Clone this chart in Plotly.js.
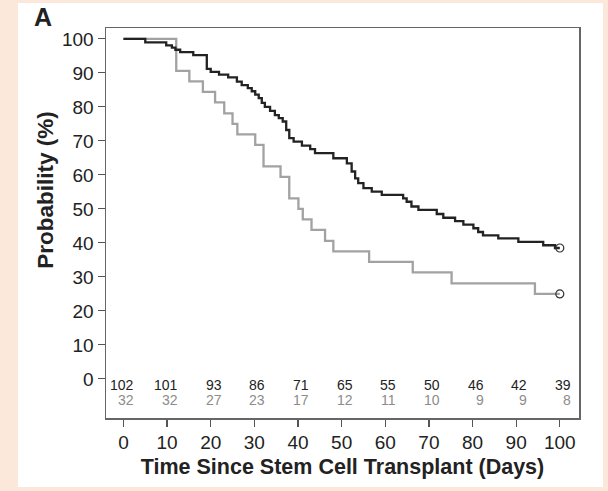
<!DOCTYPE html>
<html>
<head>
<meta charset="utf-8">
<script src="https://cdn.plot.ly/plotly-3.0.1.min.js"></script>
<style>html,body{margin:0;padding:0;background:#fbe8db;}#chart{width:608px;height:491px;}</style>
</head>
<body>
<div id="chart"></div>
<script>
// Black group (n=102): Kaplan-Meier step points (days, probability %)
var blackTimes = [0, 5.0, 9.8, 11.1, 11.9, 13.0, 16.0, 19.1, 20.0, 21.9, 24.0, 26.0, 27.1, 28.5, 29.4, 30.2, 31.0, 31.7, 32.4, 33.6, 34.7, 35.6, 36.5, 37.3, 38.0, 39.0, 40.9, 42.8, 43.9, 48.1, 51.2, 52.3, 53.1, 53.8, 55.0, 56.9, 59.2, 64.1, 64.9, 66.0, 67.6, 71.8, 73.3, 76.0, 77.9, 80.2, 81.3, 82.4, 85.9, 90.5, 96.2, 98.9, 100];
var blackSurv  = [100, 99.0, 98.1, 97.4, 96.8, 96.1, 95.2, 91.2, 90.3, 89.5, 88.7, 87.4, 86.4, 85.5, 84.6, 83.6, 82.6, 81.2, 80.0, 78.8, 77.6, 76.7, 75.7, 73.2, 70.8, 69.8, 68.6, 67.6, 66.4, 64.9, 63.4, 61.0, 59.0, 57.6, 56.1, 55.1, 54.1, 53.1, 52.1, 50.7, 49.7, 48.5, 47.4, 46.4, 45.4, 44.3, 43.2, 42.2, 41.3, 40.3, 39.3, 38.5, 38.5];
// Gray group (n=32)
var grayTimes = [0, 12.1, 15.1, 18.2, 21.0, 23.1, 25.0, 26.1, 30.2, 32.1, 36.0, 38.0, 40.1, 41.1, 43.1, 46.2, 48.1, 56.3, 66.3, 75.2, 94.3, 100];
var graySurv  = [100, 90.6, 87.5, 84.4, 81.3, 78.1, 75.0, 71.9, 68.8, 62.5, 59.4, 53.1, 50.0, 46.9, 43.8, 40.6, 37.5, 34.4, 31.3, 28.1, 25.0, 25.0];
// Numbers at risk
var riskTimes = [0, 10, 20, 30, 40, 50, 60, 70, 80, 90, 100];
var riskBlack = [102, 101, 93, 86, 71, 65, 55, 50, 46, 42, 39];
var riskGray  = [32, 32, 27, 23, 17, 12, 11, 10, 9, 9, 8];
var yTicks = [0, 10, 20, 30, 40, 50, 60, 70, 80, 90, 100];
var xTicks = [0, 10, 20, 30, 40, 50, 60, 70, 80, 90, 100];

var FONT = '"Liberation Sans", Arial, Helvetica, sans-serif';
var BLACK = '#222222', GRAY = '#a2a2a2', GRAYTXT = '#8c8c8c';

var traces = [
  {x: grayTimes, y: graySurv, mode: 'lines', line: {shape: 'hv', color: GRAY, width: 2.3}, hoverinfo: 'x+y', showlegend: false},
  {x: blackTimes, y: blackSurv, mode: 'lines', line: {shape: 'hv', color: BLACK, width: 2.3}, hoverinfo: 'x+y', showlegend: false},
  {x: [blackTimes[blackTimes.length-1], grayTimes[grayTimes.length-1]],
   y: [blackSurv[blackSurv.length-1], graySurv[graySurv.length-1]],
   mode: 'markers', marker: {symbol: 'circle-open', size: 8, color: '#333333', line: {width: 1.2}}, showlegend: false}
];

var ann = [];
riskTimes.forEach(function(t, i){
  ann.push({x: t, y: -1.8, xref: 'x', yref: 'y', text: String(riskBlack[i]), showarrow: false,
    xanchor: 'right', yanchor: 'middle', xshift: 12, borderpad: 0, font: {family: FONT, size: 14, color: BLACK}});
  ann.push({x: t, y: -6.3, xref: 'x', yref: 'y', text: String(riskGray[i]), showarrow: false,
    xanchor: 'right', yanchor: 'middle', xshift: 12, borderpad: 0, font: {family: FONT, size: 14, color: GRAYTXT}});
});
ann.push({x: -0.156, y: 1.027, xref: 'paper', yref: 'paper', text: '<b>A</b>', showarrow: false,
  xanchor: 'left', yanchor: 'middle', font: {family: FONT, size: 25, color: BLACK}});
// y-axis title (placed above the plot centre as in the reference)
ann.push({x: -0.127, y: 0.585, xref: 'paper', yref: 'paper', text: '<b>Probability (%)</b>', showarrow: false,
  textangle: -90, xanchor: 'center', yanchor: 'middle', font: {family: FONT, size: 22.5, color: BLACK}});

var layout = {
  width: 608, height: 491,
  margin: {l: 106, r: 29, t: 28, b: 73, pad: 0},
  paper_bgcolor: '#fbe8db', plot_bgcolor: '#ffffff',
  font: {family: FONT, color: BLACK},
  showlegend: false,
  shapes: [{type: 'rect', xref: 'paper', yref: 'paper', x0: -0.186, x1: 1.0507, y0: -0.1769, y1: 1.0641,
    fillcolor: '#ffffff', line: {width: 0}, layer: 'below'}],
  xaxis: {range: [-4, 104.4], tickvals: xTicks, ticktext: xTicks.map(String), ticks: 'outside', ticklen: 7,
    tickcolor: '#555', tickwidth: 1.2, showgrid: false, zeroline: false, showline: true, mirror: true,
    linecolor: '#666666', linewidth: 1.5, tickfont: {family: FONT, size: 19, color: BLACK},
    title: {text: '<b>Time Since Stem Cell Transplant (Days)</b>', font: {family: FONT, size: 21.5, color: BLACK}, standoff: 6}},
  yaxis: {range: [-11.5, 103.2], tickvals: yTicks, ticktext: yTicks.map(String), ticks: 'outside', ticklen: 7,
    tickcolor: '#555', tickwidth: 1.2, showgrid: false, zeroline: false, showline: true, mirror: true,
    linecolor: '#666666', linewidth: 1.5, tickfont: {family: FONT, size: 19, color: BLACK}},
  annotations: ann
};

Plotly.newPlot('chart', traces, layout, {displayModeBar: false, staticPlot: true});
</script>
</body>
</html>
